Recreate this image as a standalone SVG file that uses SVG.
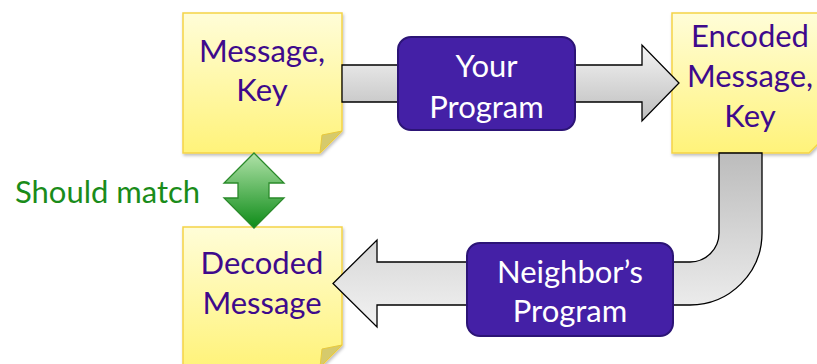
<svg xmlns="http://www.w3.org/2000/svg" width="817" height="364" viewBox="0 0 817 364">
  <defs>
    <linearGradient id="noteFill" x1="0" y1="0" x2="0" y2="1">
      <stop offset="0" stop-color="#fffdd8"/>
      <stop offset="1" stop-color="#fff37a"/>
    </linearGradient>
    <linearGradient id="topArrowFill" x1="0" y1="0" x2="0" y2="1">
      <stop offset="0" stop-color="#f4f4f4"/>
      <stop offset="1" stop-color="#bdbdbd"/>
    </linearGradient>
    <linearGradient id="jArrowFill" gradientUnits="userSpaceOnUse" x1="0" y1="153" x2="0" y2="327">
      <stop offset="0" stop-color="#bcbcbc"/>
      <stop offset="1" stop-color="#f2f2f2"/>
    </linearGradient>
    <linearGradient id="greenFill" x1="0" y1="0" x2="0" y2="1">
      <stop offset="0" stop-color="#b0e2a8"/>
      <stop offset="1" stop-color="#0e8c18"/>
    </linearGradient>
    <filter id="noteShadow" x="-10%" y="-10%" width="125%" height="125%">
      <feDropShadow dx="1" dy="2" stdDeviation="1.5" flood-color="#000" flood-opacity="0.25"/>
    </filter>
  </defs>
  <style>
    .note { fill: url(#noteFill); stroke: #f5d347; stroke-width: 1.5; filter: url(#noteShadow); }
    .flap { fill: #d6ca6c; stroke: #e8c93c; stroke-width: 1; }
    .noteText { font-family: Lato, "Liberation Sans", sans-serif; font-size: 31px; fill: #3e0a8c; text-anchor: middle; }
    .prog { fill: #4420a6; stroke: #2c1476; stroke-width: 2; }
    .progText { font-family: Lato, "Liberation Sans", sans-serif; font-size: 31px; fill: #ffffff; text-anchor: middle; }
    .arrow { stroke: #000; stroke-width: 1.3; stroke-linejoin: miter; }
  </style>

  <!-- sticky notes -->
  <g id="note-message-key">
    <path class="note" d="M183,13 H342 V131 L320,153 H183 Z"/>
    <path class="flap" d="M342,131 L322,135 L320,153 Z"/>
    <text class="noteText" x="262" y="62">Message,</text>
    <text class="noteText" x="262" y="101">Key</text>
  </g>

  <g id="note-encoded">
    <path class="note" d="M672,13 H831 V131 L809,153 H672 Z"/>
    <text class="noteText" x="750" y="47">Encoded</text>
    <text class="noteText" x="750" y="87">Message,</text>
    <text class="noteText" x="750" y="127">Key</text>
  </g>

  <g id="note-decoded">
    <path class="note" d="M183,227 H342 V345 L320,367 H183 Z"/>
    <path class="flap" d="M342,345 L322,349 L320,367 Z"/>
    <text class="noteText" x="262" y="274">Decoded</text>
    <text class="noteText" x="262" y="314">Message</text>
  </g>

  <!-- connectors -->
  <g id="connectors">
    <path class="arrow" fill="url(#topArrowFill)" d="M342,65 H642 V45 L679,83 L642,121 V102 H342 Z"/>
    <path class="arrow" fill="url(#jArrowFill)" d="M719,153 H762 V233 A72,72 0 0 1 690,305 H377 V327 L333,283.5 L377,240 V262 H690 A29,29 0 0 0 719,233 Z"/>
    <path fill="url(#greenFill)" stroke="#2a8a2a" stroke-width="1.3" d="M254,153 L284,183 H269 V198 H284 L254,228 L224,198 H238 V183 H224 Z"/>
  </g>

  <!-- programs -->
  <g id="your-program">
    <rect class="prog" x="398" y="37" width="177" height="93" rx="13"/>
    <text class="progText" x="486.5" y="77">Your</text>
    <text class="progText" x="486.5" y="118">Program</text>
  </g>

  <g id="neighbor-program">
    <rect class="prog" x="467" y="243" width="206" height="93" rx="13"/>
    <text class="progText" x="570" y="283">Neighbor’s</text>
    <text class="progText" x="570" y="322">Program</text>
  </g>

  <g id="label-should-match">
    <text x="15" y="203" font-family="Lato, 'Liberation Sans', sans-serif" font-size="31" fill="#1a8c1a">Should match</text>
  </g>
</svg>
